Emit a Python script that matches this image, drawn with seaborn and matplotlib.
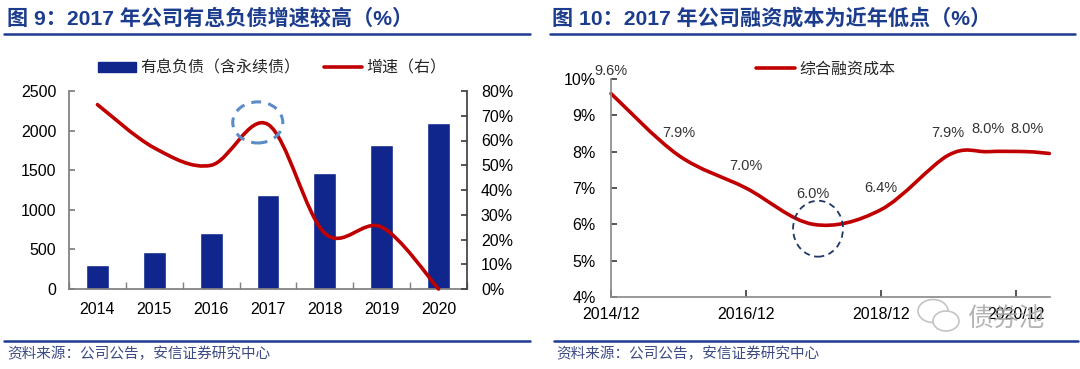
import numpy as np
import matplotlib
matplotlib.use("Agg")
import matplotlib.pyplot as plt
import seaborn as sns
from matplotlib.path import Path
from matplotlib.patches import PathPatch, Patch, Ellipse
from matplotlib.lines import Line2D

W, H = 1080, 369

# --- left chart data ---
years = ["2014", "2015", "2016", "2017", "2018", "2019", "2020"]
debt = [300, 470, 710, 1185, 1460, 1815, 2100]
growth = [74.5, 57, 50, 66.5, 22.5, 25, 0]

# --- right chart data ---
cost_dates = ["2014/12", "2015/12", "2016/12", "2017/12", "2018/12",
              "2019/12", "2020/07", "2021/02", "2021/06"]
cost = [9.6, 7.9, 7.0, 6.0, 6.4, 7.9, 8.0, 8.0, 7.95]
cost_labels = ["9.6%", "7.9%", "7.0%", "6.0%", "6.4%", "7.9%", "8.0%", "8.0%", ""]
cost_ticks = ["2014/12", "2016/12", "2018/12", "2020/12"]

title_left = "图 9：2017 年公司有息负债增速较高（%）"
title_right = "图 10：2017 年公司融资成本为近年低点（%）"
source = "资料来源：公司公告，安信证券研究中心"

BAR = "#10268c"
RED = "#c00000"
TITLE = "#1c3c8e"
SPINE = "#7f7f7f"


def fx(px):
    return px / W


def fy(py):
    return 1 - py / H


def to_year(s):
    y, m = s.split("/")
    return int(y) + (int(m) - 1) / 12


def smooth_path(xs, ys):
    # Excel-style smoothed line: Catmull-Rom segments as cubic Beziers
    pts = np.column_stack([xs, ys]).astype(float)
    ext = np.vstack([pts[0], pts, pts[-1]])
    verts, codes = [pts[0]], [Path.MOVETO]
    for i in range(len(pts) - 1):
        p0, p1, p2, p3 = ext[i], ext[i + 1], ext[i + 2], ext[i + 3]
        verts += [p1 + (p2 - p0) / 6, p2 - (p3 - p1) / 6, p2]
        codes += [Path.CURVE4] * 3
    return Path(verts, codes)


sns.set_theme(style="white")
plt.rcParams["font.family"] = ["Liberation Sans", "Noto Sans CJK SC"]

fig = plt.figure(figsize=(W / 100, H / 100), dpi=100)

# ================= left chart =================
ax = fig.add_axes([fx(69), fy(289), fx(467) - fx(69), (289 - 91) / H])
sns.barplot(x=years, y=debt, color=BAR, saturation=1, width=0.4, ax=ax)
ax.set_xlim(-0.5, 6.5)
ax.set_ylim(0, 2500)
ax.set_yticks(range(0, 2501, 500))
ax.set_xlabel("")
ax.set_ylabel("")
ax.set_xticks(np.arange(-0.5, 7), minor=True)
ax.tick_params(axis="x", which="major", length=0, pad=9, labelsize=11.5, colors="black")
ax.tick_params(axis="x", which="minor", length=5, direction="in", color=SPINE, bottom=True)
ax.tick_params(axis="y", length=4, direction="in", pad=9, labelsize=11.5,
               color=SPINE, left=True, labelcolor="black")
for s in ["top", "right"]:
    ax.spines[s].set_visible(False)
for s in ["left", "bottom"]:
    ax.spines[s].set_color(SPINE)

ax2 = ax.twinx()
ax2.set_ylim(0, 80)
ax2.set_yticks(range(0, 81, 10))
ax2.set_yticklabels([f"{v}%" for v in range(0, 81, 10)])
ax2.tick_params(axis="y", length=4, direction="in", pad=10, labelsize=11.5,
                color="#404040", right=True, labelcolor="black")
for s in ["top", "left", "bottom"]:
    ax2.spines[s].set_visible(False)
ax2.spines["right"].set_color("#404040")
ax2.grid(False)
ax.grid(False)
ax2.add_patch(PathPatch(smooth_path(range(len(years)), growth), facecolor="none",
                        edgecolor=RED, lw=2.6, capstyle="round", clip_on=False))
ax2.add_patch(Ellipse((2.82, 67.3), 0.88, 16.6, facecolor="none", edgecolor="#5b8cc8",
                      lw=2.2, linestyle=(0, (3.2, 2.4))))

fig.legend(handles=[Patch(color=BAR), Line2D([], [], color=RED, lw=2.6)],
           labels=["有息负债（含永续债）", "增速（右）"],
           loc="center", bbox_to_anchor=(fx(272), fy(68)), ncol=2, frameon=False,
           fontsize=11.5, handlelength=2.4, handleheight=0.6, handletextpad=0.25,
           columnspacing=1.5, borderpad=0)

# ================= right chart =================
bx = fig.add_axes([fx(611), fy(297), fx(1050) - fx(611), (297 - 79) / H])
cx = [to_year(d) for d in cost_dates]
bx.set_xlim(to_year("2014/12"), to_year("2021/06") + 0.01)
bx.set_ylim(4, 10)
bx.set_yticks(range(4, 11))
bx.set_yticklabels([f"{v}%" for v in range(4, 11)])
bx.set_xticks([to_year(t) for t in cost_ticks])
bx.set_xticklabels(cost_ticks)
bx.tick_params(axis="x", length=5, direction="in", pad=7, labelsize=11.5,
               color="#404040", bottom=True, labelcolor="black")
bx.tick_params(axis="y", length=4, direction="in", pad=11, labelsize=11.5,
               color="#404040", left=True, labelcolor="black")
for s in ["top", "right"]:
    bx.spines[s].set_visible(False)
for s in ["left", "bottom"]:
    bx.spines[s].set_color("#8c8c8c")
bx.grid(False)
bx.add_patch(PathPatch(smooth_path(cx, cost), facecolor="none", edgecolor=RED,
                       lw=2.6, capstyle="round", clip_on=False))
# the 6.0% label sits higher so it clears the dashed circle
label_lift = [16, 16, 16, 22, 16, 16, 16, 16, 16]
for xv, yv, lab, dy in zip(cx, cost, cost_labels, label_lift):
    if lab:
        bx.annotate(lab, (xv, yv), xytext=(0, dy), textcoords="offset points",
                    ha="center", va="center", fontsize=10.5, color="#333333",
                    annotation_clip=False)
bx.add_patch(Ellipse((to_year("2017/12") + 0.07, 5.88), 0.74, 1.54, facecolor="none",
                     edgecolor="#1f3864", lw=1.3, linestyle=(0, (3.5, 2.5))))

fig.legend(handles=[Line2D([], [], color=RED, lw=2.6)], labels=["综合融资成本"],
           loc="center", bbox_to_anchor=(fx(826), fy(69)), frameon=False,
           fontsize=11.5, handlelength=2.4, handletextpad=0.3, borderpad=0)

# ================= titles, rules, source =================
for x0, x1, tx, title in [(4, 530, 7, title_left), (550, 1075, 552, title_right)]:
    fig.text(fx(tx), fy(18), title, fontsize=15.2, fontweight="bold", color=TITLE,
             ha="left", va="center")
    fig.add_artist(Line2D([fx(x0), fx(x1)], [fy(33.5), fy(33.5)], color="#1f3a93", lw=1.8))

for x0, x1, tx in [(4, 530, 7), (554, 1078, 556)]:
    fig.add_artist(Line2D([fx(x0), fx(x1)], [fy(341), fy(341)], color="#1f3a93", lw=1.8))
    fig.text(fx(tx), fy(354), source, fontsize=10.5, style="italic", color="#3d4b85",
             ha="left", va="center")

# watermark
fig.add_artist(Ellipse((fx(933), fy(311)), fx(30), 23 / H, transform=fig.transFigure,
                       facecolor="white", edgecolor="#c4c4c4", lw=1.2))
fig.add_artist(Ellipse((fx(946), fy(321)), fx(26), 20 / H, transform=fig.transFigure,
                       facecolor="white", edgecolor="#c4c4c4", lw=1.2))
fig.text(fx(1006), fy(320), "债券池", fontsize=18.5, color="#a6a6a6", alpha=0.85,
         ha="center", va="center", family=["Noto Sans CJK SC"])

fig.savefig("out.png", dpi=100)
